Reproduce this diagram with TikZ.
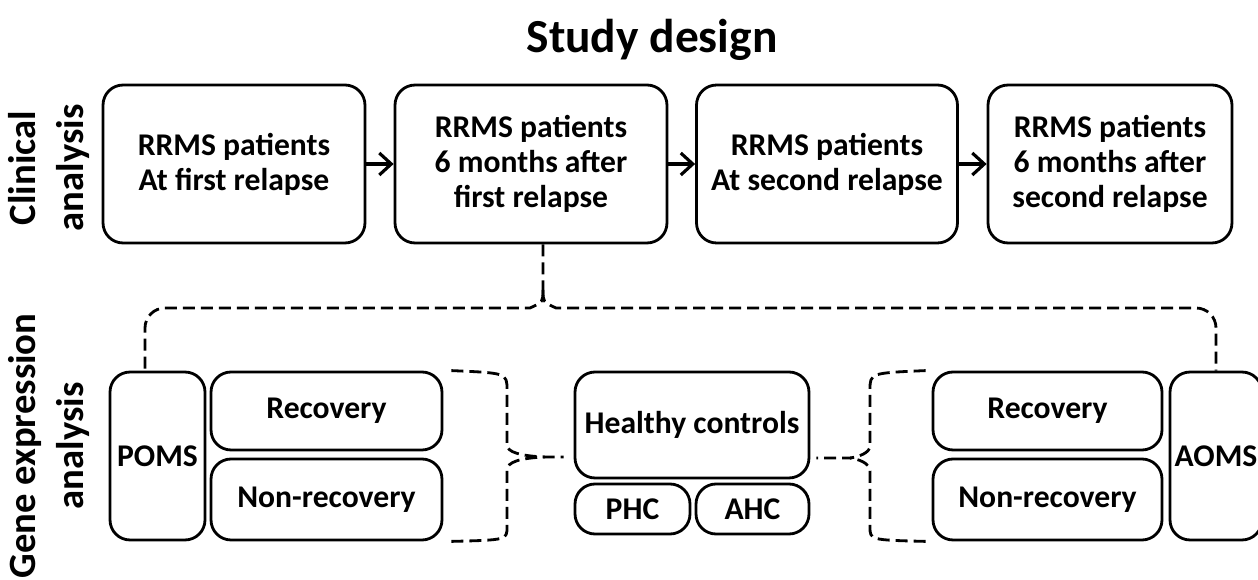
\documentclass[tikz,border=0pt]{standalone}
\usepackage{fontspec}
\setmainfont{Carlito}
\usepackage{tikz}
\usetikzlibrary{arrows, arrows.meta, positioning, calc}

\begin{document}
\begin{tikzpicture}[x=0.02cm, y=-0.02cm, >={Straight Barb[length=2.4mm, width=4.4mm]},
    box/.style={draw, line width=1.6pt, rounded corners=0.4cm, align=center,
      font=\fontsize{18}{20}\selectfont\bfseries, inner sep=0pt},
    dashline/.style={line width=1.6pt, dash pattern=on 0.24cm off 0.12cm},
    side/.style={rotate=90, align=center, font=\fontsize{22}{27}\selectfont\bfseries}]
    \useasboundingbox (0,0) rectangle (1258,580);

    \node[font=\fontsize{27}{30}\selectfont\bfseries] (title) at (652,40) {Study design};
    \node[side] (clin) at (49,168) {Clinical\\analysis};
    \node[side] (gene) at (49,446) {Gene expression\\analysis};

    \node[box, minimum width=5.24cm, minimum height=3.16cm] (first) at (234,164)
      {RRMS patients\\At first relapse};
    \node[box, minimum width=5.44cm, minimum height=3.16cm] (sixfirst) at (531,164)
      {RRMS patients\\6 months after\\first relapse};
    \node[box, minimum width=5.22cm, minimum height=3.16cm] (second) at (827,164)
      {RRMS patients\\At second relapse};
    \node[box, minimum width=4.88cm, minimum height=3.16cm] (sixsecond) at (1110,164)
      {RRMS patients\\6 months after\\second relapse};

    \draw [->, line width=1.8pt] (first) -- (sixfirst);
    \draw [->, line width=1.8pt] (sixfirst) -- (second);
    \draw [->, line width=1.8pt] (second) -- (sixsecond);

    \node[box, minimum width=1.9cm, minimum height=3.36cm] (poms) at (157.5,456) {POMS};
    \node[box, minimum width=4.62cm, minimum height=1.56cm] (recl) at (326.5,411) {Recovery};
    \node[box, minimum width=4.62cm, minimum height=1.62cm] (nonrecl) at (326.5,499.5) {Non-recovery};
    \node[box, minimum width=4.68cm, minimum height=2.12cm] (hc) at (692,425) {Healthy controls};
    \node[box, minimum width=2.3cm, minimum height=1cm] (phc) at (632.5,509) {PHC};
    \node[box, minimum width=2.26cm, minimum height=1cm] (ahc) at (752.5,509) {AHC};
    \node[box, minimum width=4.58cm, minimum height=1.56cm] (recr) at (1047.5,411) {Recovery};
    \node[box, minimum width=4.58cm, minimum height=1.62cm] (nonrecr) at (1047.5,499.5) {Non-recovery};
    \node[box, minimum width=1.84cm, minimum height=3.36cm] (aoms) at (1216,456) {AOMS};

    \coordinate (split) at (543,290);
    \coordinate (tipl) at (545,457);
    \coordinate (tipr) at (850,458);

    \draw [dashline] ([xshift=0.24cm]sixfirst.south) -- (split);
    \draw [dashline] (split) .. controls (543,302) .. (530,308)
      [rounded corners=0.4cm] -| ([xshift=-0.25cm]poms.north);
    \draw [dashline] (split) .. controls (543,302) .. (556,308)
      [rounded corners=0.4cm] -| (aoms.north);

    \draw [dashline] ([xshift=0.16cm]recl.north east) .. controls (507,373) .. (507,390)
      -- (507,445) .. controls (507,452) and (520,456) .. (tipl)
      -- ([xshift=-0.2cm]hc.west |- tipl);
    \draw [dashline] ([xshift=0.16cm]nonrecl.south east) .. controls (507,540) .. (507,527)
      -- (507,470) .. controls (507,462) and (520,458) .. (tipl);
    \draw [dashline] ([xshift=-0.12cm]recr.north west) .. controls (870,373) .. (870,390)
      -- (870,446) .. controls (870,453) and (858,457) .. (tipr)
      -- ([xshift=0.12cm]hc.east |- tipr);
    \draw [dashline] ([xshift=-0.12cm]nonrecr.south west) .. controls (870,540) .. (870,527)
      -- (870,471) .. controls (870,463) and (858,459) .. (tipr);
  \end{tikzpicture}
\end{document}
